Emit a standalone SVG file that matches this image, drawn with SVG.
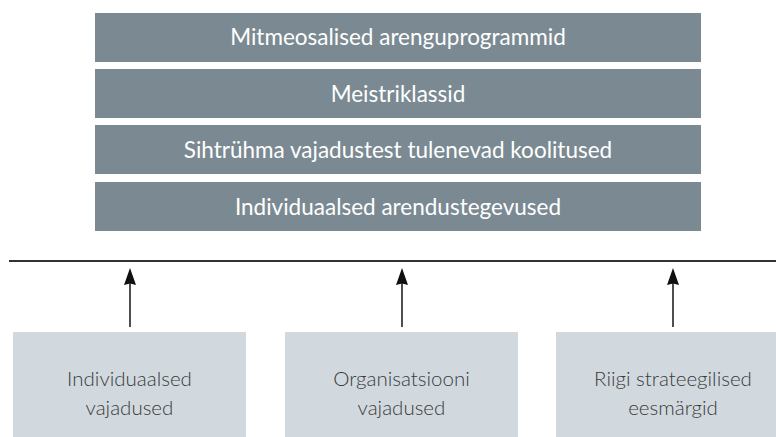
<svg xmlns="http://www.w3.org/2000/svg" width="776" height="437" viewBox="0 0 776 437">
<style>
.bar{fill:#7b8a92}
.bt{fill:#ffffff;font-family:Lato,"Open Sans",sans-serif;font-size:22.5px;text-anchor:middle}
.box{fill:#d1d9df}
.xt{fill:#3a3a3a;font-family:Lato,"Open Sans",sans-serif;font-weight:300;font-size:20.5px;text-anchor:middle}
.conn{stroke:#222;stroke-width:1.6;fill:none}
.head{fill:#111}
</style>
<g id="bar1"><rect class="bar" x="95" y="13" width="606" height="49"/><text class="bt" x="398" y="45">Mitmeosalised arenguprogrammid</text></g>
<g id="bar2"><rect class="bar" x="95" y="69" width="606" height="49"/><text class="bt" x="398" y="101.5">Meistriklassid</text></g>
<g id="bar3"><rect class="bar" x="95" y="125" width="606" height="49"/><text class="bt" x="398" y="157.5">Sihtrühma vajadustest tulenevad koolitused</text></g>
<g id="bar4"><rect class="bar" x="95" y="182" width="606" height="49"/><text class="bt" x="398" y="214.5">Individuaalsed arendustegevused</text></g>
<g id="box1"><rect class="box" x="13" y="332" width="233" height="105"/><text class="xt" x="129.5" y="386">Individuaalsed</text><text class="xt" x="129.5" y="415">vajadused</text></g>
<g id="box2"><rect class="box" x="285" y="332" width="233" height="105"/><text class="xt" x="401.5" y="386">Organisatsiooni</text><text class="xt" x="401.5" y="415">vajadused</text></g>
<g id="box3"><rect class="box" x="556" y="332" width="220" height="105"/><text class="xt" x="673" y="386">Riigi strateegilised</text><text class="xt" x="673" y="415">eesmärgid</text></g>
<g id="connectors">
<line x1="9" y1="261" x2="776" y2="261" stroke="#333" stroke-width="2"/>
<line class="conn" x1="130" y1="327" x2="130" y2="280"/>
<path class="head" d="M130 268 L136 285 L130 283.5 L124 285 Z"/>
<line class="conn" x1="402" y1="327" x2="402" y2="280"/>
<path class="head" d="M402 268 L408 285 L402 283.5 L396 285 Z"/>
<line class="conn" x1="673" y1="327" x2="673" y2="280"/>
<path class="head" d="M673 268 L679 285 L673 283.5 L667 285 Z"/>
</g>
</svg>
